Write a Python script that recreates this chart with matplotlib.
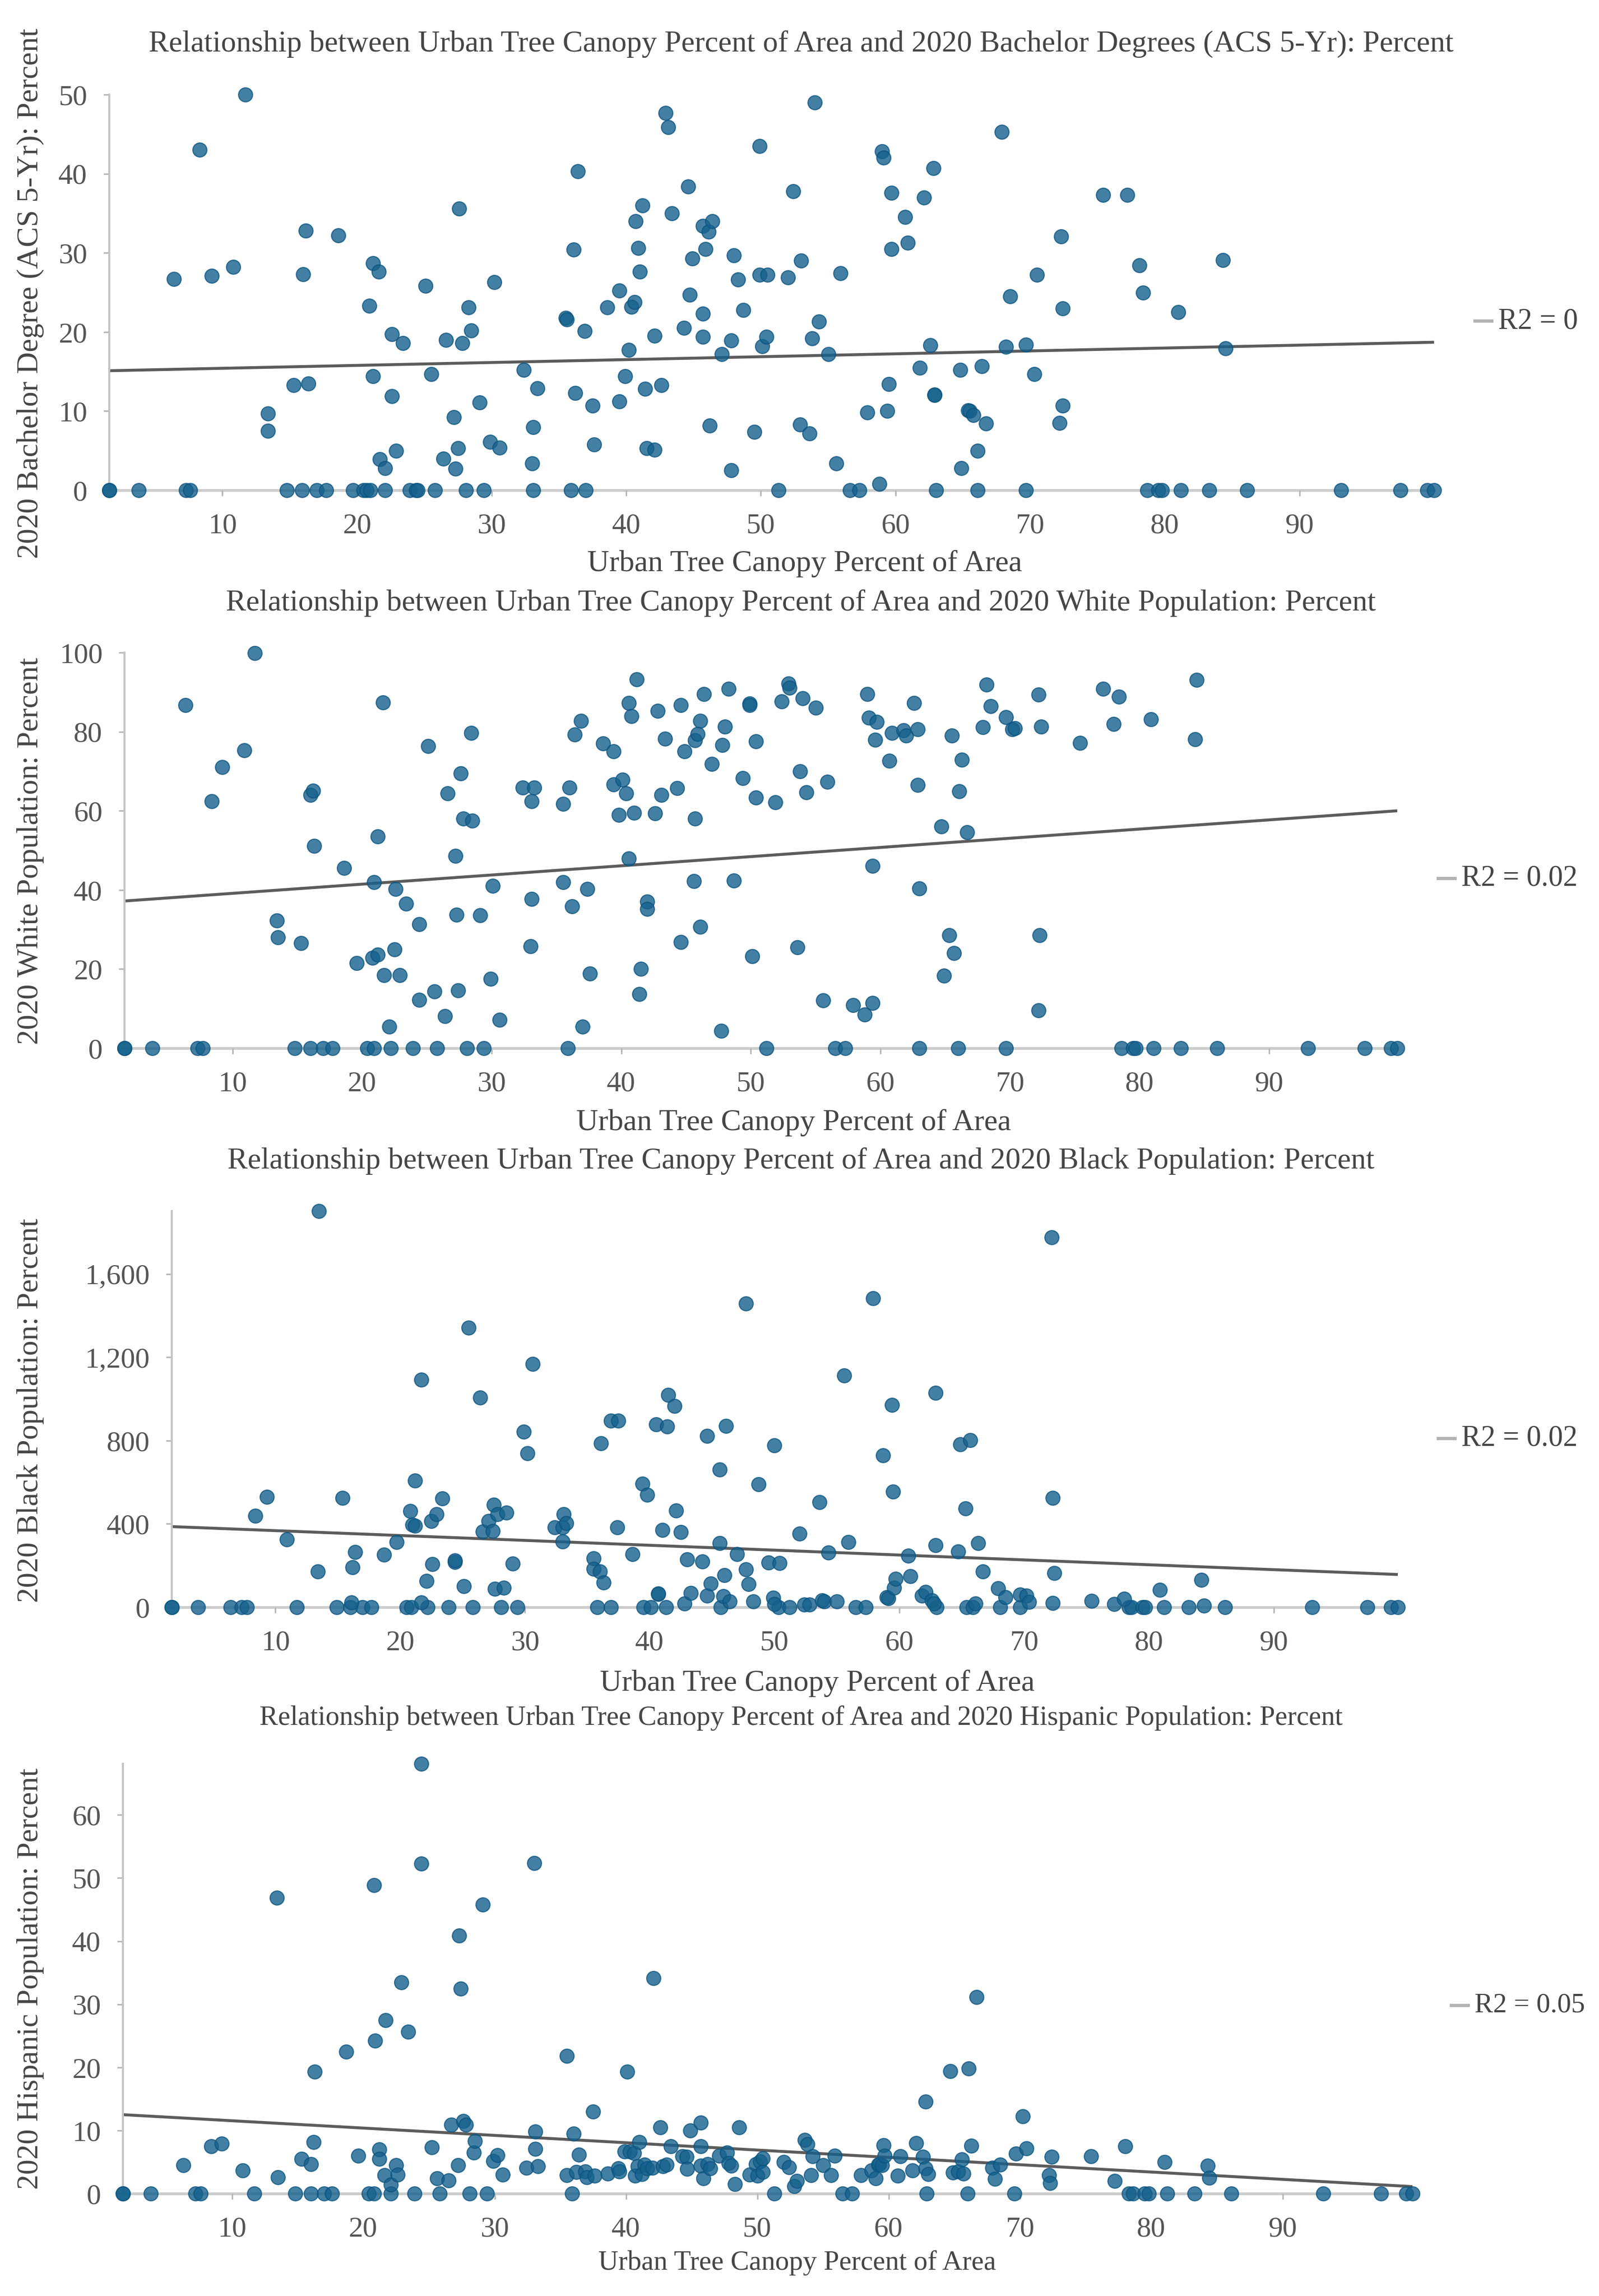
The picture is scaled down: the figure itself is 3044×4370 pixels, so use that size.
import numpy as np
import matplotlib
matplotlib.use("Agg")
import matplotlib.pyplot as plt
from matplotlib.lines import Line2D
from matplotlib.ticker import FuncFormatter

plt.rcParams['font.family'] = ['Liberation Serif', 'DejaVu Serif']

W, H = 3044, 4370

# ---- data (x = canopy %, y = variable) ----
bach_x = [1.6, 1.6, 3.8, 7.3, 7.6, 14.8, 15.9, 17.0, 17.7, 19.7, 20.5, 20.7, 21.0, 22.1, 23.9, 24.4, 24.5,
          25.8, 28.1, 29.4, 33.1, 35.9, 37.0, 51.3, 56.6, 57.3, 63.0, 66.1, 69.7, 78.7, 79.5, 79.8, 81.2,
          83.3, 86.1, 93.1, 97.5, 99.5, 100.0,
          6.4, 8.3, 9.2, 10.8, 11.7, 13.4, 13.4, 15.3, 16.0, 16.2, 16.4, 18.6, 20.9, 21.2, 21.2, 21.6, 21.7,
          22.1, 22.6, 22.6, 22.9, 23.4, 25.1, 25.5, 26.4, 26.6, 27.2, 27.3, 27.5, 27.6, 27.8, 28.3, 28.5,
          29.1, 29.9, 30.2, 30.6, 32.4, 33.0, 33.1, 33.4, 35.5, 35.6, 36.1, 36.2, 36.4, 36.9, 37.5, 37.6,
          38.6, 39.5, 39.5, 39.9, 40.2, 40.4, 40.6, 40.7, 40.9, 41.0, 41.2, 41.4, 41.5, 42.1, 42.1, 42.6,
          42.9, 43.1, 43.4, 44.3, 44.6, 44.7, 44.9, 45.7, 45.7, 45.7, 45.9, 46.1, 46.2, 46.4, 47.1, 47.8,
          47.8, 48.0, 48.3, 48.7, 49.5, 49.9, 49.9, 50.1, 50.5, 50.4, 52.0, 52.4, 52.9, 53.0, 53.6, 54.0,
          54.3, 53.8, 55.0, 55.9, 55.6, 57.9, 58.8, 59.0, 59.1, 59.4, 59.5, 59.7, 59.7, 60.7, 60.9, 61.8,
          62.1, 62.6, 62.8, 62.9, 62.9, 64.8, 64.9, 65.4, 65.5, 65.8, 66.1, 66.4, 66.7, 67.9, 68.2, 68.5,
          69.7, 70.3, 70.5, 72.2, 72.3, 72.4, 72.4, 75.4, 77.2, 78.1, 78.4, 81.0, 84.3, 84.5]
bach_y = [0, 0, 0, 0, 0, 0, 0, 0, 0, 0, 0, 0, 0, 0, 0, 0, 0,
          0, 0, 0, 0, 0, 0, 0, 0, 0, 0, 0, 0, 0, 0, 0, 0,
          0, 0, 0, 0, 0, 0,
          26.7, 43.0, 27.1, 28.2, 50.0, 7.5, 9.7, 13.3, 27.3, 32.8, 13.5, 32.2, 23.3, 28.7, 14.4, 27.6, 3.9,
          2.8, 19.7, 11.9, 5.0, 18.6, 25.8, 14.7, 4.0, 19.0, 9.2, 2.7, 5.3, 35.6, 18.6, 23.1, 20.2,
          11.1, 6.1, 26.3, 5.4, 15.2, 3.4, 8.0, 12.9, 21.8, 21.6, 30.4, 12.3, 40.3, 20.1, 10.7, 5.8,
          23.1, 25.2, 11.2, 14.4, 17.7, 23.2, 23.8, 34.0, 30.6, 27.6, 36.0, 12.8, 5.3, 19.5, 5.1, 13.3,
          47.7, 45.9, 35.0, 20.5, 38.4, 24.7, 29.3, 22.3, 19.4, 33.4, 30.5, 32.7, 8.2, 34.0, 17.2, 2.5,
          18.9, 29.7, 26.6, 22.8, 7.4, 43.5, 27.2, 18.2, 27.2, 19.4, 26.9, 37.8, 8.3, 29.0, 7.2, 49.0,
          21.3, 19.2, 17.2, 27.4, 3.4, 9.8, 0.8, 42.8, 42.0, 10.0, 13.4, 30.5, 37.6, 34.5, 31.3, 15.5,
          37.0, 18.3, 40.7, 12.1, 12.0, 15.2, 2.8, 10.1, 10.0, 9.5, 5.0, 15.7, 8.4, 45.3, 18.1, 24.5,
          18.4, 14.7, 27.2, 8.5, 32.1, 10.7, 23.0, 37.3, 37.3, 28.4, 25.0, 22.5, 29.1, 17.9]
bach_trend = [15.1, 18.7]
bach_r2 = "0"

white_x = [1.66, 1.66, 3.8, 7.3, 7.7, 14.8, 16.0, 17.0, 17.7, 20.4, 20.9, 22.2, 23.9, 25.8, 28.1, 29.4,
           35.9, 51.2, 56.5, 57.3, 63.0, 66.0, 69.7, 78.6, 79.5, 79.7, 81.1, 83.2, 86.0, 93.0, 97.4, 99.4, 99.9,
           6.35, 8.4, 9.2, 10.9, 11.7, 13.4, 13.5, 15.3, 16.0, 16.2, 16.3, 18.6, 19.6, 20.8, 20.9, 21.2,
           21.2, 21.6, 21.7, 22.1, 22.5, 22.6, 22.9, 23.4, 24.4, 24.4, 25.1, 25.6, 26.4, 26.6, 27.2, 27.3,
           27.4, 27.6, 27.8, 28.4, 28.5, 29.1, 29.9, 30.1, 30.6, 32.4, 33.0, 33.1, 33.1, 33.3, 35.5, 35.5,
           36.0, 36.2, 36.4, 36.9, 37.0, 37.4, 37.6, 38.6, 39.4, 39.4, 39.8, 40.1, 40.4, 40.6, 40.6, 40.8,
           41.0, 41.2, 41.4, 41.5, 42.0, 42.0, 42.6, 42.8, 43.1, 43.4, 44.3, 44.6, 44.6, 44.9, 45.6, 45.7,
           45.7, 45.9, 46.1, 46.1, 46.4, 47.0, 47.7, 47.8, 48.0, 48.3, 48.7, 49.4, 49.9, 49.9, 50.1, 50.4,
           50.4, 51.9, 52.4, 52.9, 53.0, 53.6, 53.8, 54.0, 54.3, 55.0, 55.9, 55.6, 57.9, 58.8, 59.0, 59.1,
           59.4, 59.4, 59.6, 59.7, 60.7, 60.9, 61.8, 62.0, 62.6, 62.9, 62.9, 63.0, 64.7, 64.9, 65.3, 65.5,
           65.7, 66.1, 66.3, 66.7, 67.9, 68.2, 68.5, 69.7, 70.2, 70.4, 72.2, 72.2, 72.3, 72.4, 75.4, 77.2,
           78.0, 78.4, 80.9, 84.3, 84.4]
white_y = [0, 0, 0, 0, 0, 0, 0, 0, 0, 0, 0, 0, 0, 0, 0, 0,
           0, 0, 0, 0, 0, 0, 0, 0, 0, 0, 0, 0, 0, 0, 0, 0, 0,
           86.7, 62.4, 71.0, 75.3, 99.9, 32.3, 28.0, 26.5, 64.0, 65.1, 51.1, 45.5, 21.5, 22.9, 42.0, 23.7,
           53.5, 87.4, 18.5, 5.5, 25.0, 40.3, 18.5, 36.5, 31.4, 12.2, 76.4, 14.4, 8.1, 64.4, 48.6, 33.7,
           14.6, 69.5, 58.0, 79.7, 57.5, 33.6, 17.5, 41.0, 7.2, 65.9, 25.8, 37.7, 62.4, 65.9, 42.0, 61.7,
           65.9, 35.8, 79.3, 82.7, 5.5, 40.3, 18.8, 77.0, 66.7, 75.0, 58.9, 67.8, 64.4, 48.0, 87.2, 83.9,
           59.5, 93.2, 13.7, 20.1, 37.1, 35.2, 59.4, 85.2, 64.0, 78.2, 65.8, 26.8, 86.7, 75.0, 42.2, 58.1,
           77.8, 79.4, 82.7, 30.7, 89.5, 71.8, 4.4, 76.6, 81.3, 90.9, 42.3, 68.3, 87.1, 86.7, 23.2, 63.3,
           77.5, 62.2, 87.6, 92.1, 91.1, 25.5, 70.0, 88.5, 64.7, 86.1, 67.3, 12.1, 10.9, 8.5, 89.5, 83.5,
           11.4, 46.1, 78.0, 82.5, 72.6, 79.7, 80.4, 79.0, 87.2, 80.6, 66.5, 40.4, 56.0, 18.3, 28.5, 79.0,
           24.0, 64.9, 72.9, 54.6, 81.1, 91.9, 86.5, 83.6, 80.6, 80.9, 9.5, 89.4, 28.6, 81.3, 77.2, 90.8,
           81.9, 88.8, 83.2, 78.1, 93.1]
white_trend = [37.2, 60.0]
white_r2 = "0.02"

black_x = [1.7, 1.7, 3.8, 6.4, 7.3, 7.7, 11.7, 14.9, 16.0, 17.0, 17.7, 20.5, 20.9, 22.2, 23.9, 25.8, 28.1,
           29.4, 35.8, 36.9, 39.5, 40.1, 41.3, 45.7, 50.3, 51.2, 56.5, 57.3, 63.0, 65.4, 65.9, 68.1, 69.7,
           78.4, 78.6, 79.5, 79.7, 81.2, 83.2, 86.1, 93.1, 97.5, 99.4, 99.95,
           8.4, 9.3, 10.9, 13.4, 13.5, 15.4, 16.1, 16.2, 16.4, 18.7, 19.7, 20.8, 21.0, 21.2, 21.2, 21.7,
           21.7, 22.1, 22.5, 22.6, 22.9, 23.4, 24.4, 24.4, 25.1, 25.5, 26.4, 26.6, 27.1, 27.4, 27.5, 27.6,
           27.8, 28.3, 28.5, 29.0, 29.9, 30.2, 30.6, 32.4, 33.0, 33.0, 33.1, 33.3, 35.5, 35.5, 36.0, 36.1,
           36.3, 36.9, 37.5, 37.4, 38.6, 39.4, 39.8, 40.5, 40.7, 40.7, 41.0, 41.4, 41.5, 42.0, 42.1, 42.5,
           42.8, 43.0, 43.3, 44.2, 44.6, 44.6, 44.9, 45.6, 45.6, 45.9, 46.0, 46.1, 46.4, 47.0, 47.7, 47.7,
           47.9, 48.3, 48.7, 49.5, 49.9, 50.0, 50.0, 50.4, 52.0, 52.4, 52.8, 53.6, 53.8, 54.0, 54.3, 55.0,
           55.6, 55.9, 57.9, 58.7, 59.0, 59.1, 59.4, 59.5, 59.6, 59.7, 60.7, 60.9, 61.8, 62.1, 62.6, 62.8,
           62.9, 62.9, 64.7, 64.9, 65.3, 65.7, 66.1, 66.3, 66.7, 67.9, 68.5, 69.7, 70.2, 70.4, 72.2, 72.3,
           72.3, 72.4, 75.4, 77.2, 78.0, 80.9, 84.2, 84.4]
black_y = [0, 0, 0, 0, 0, 0, 0, 0, 0, 0, 0, 0, 0, 0, 0, 0, 0,
           0, 0, 0, 0, 0, 0, 0, 0, 0, 0, 0, 0, 0, 0, 0, 0,
           0, 0, 0, 0, 0, 0, 0, 0, 0, 0, 0,
           438, 529, 326, 172, 1902, 525, 22, 191, 266, 252, 312, 462, 396, 391, 607, 1092,
           22, 125, 414, 208, 447, 522, 218, 225, 102, 1342, 1006, 362, 413, 367, 491, 89,
           447, 94, 455, 210, 843, 739, 1167, 384, 384, 316, 447, 403, 234, 183, 171, 788,
           119, 895, 895, 384, 254, 592, 541, 877, 63, 65, 372, 868, 1018, 965, 464, 360,
           17, 229, 68, 220, 822, 55, 114, 660, 307, 53, 155, 870, 27, 254, 1457, 181,
           111, 27, 590, 215, 46, 14, 778, 213, 353, 12, 12, 505, 34, 29, 263, 27,
           1112, 314, 1484, 730, 49, 43, 970, 554, 94, 136, 247, 148, 55, 73, 34, 17,
           298, 1028, 268, 783, 474, 803, 17, 309, 172, 90, 48, 60, 55, 24, 1776, 19,
           525, 164, 31, 14, 41, 82, 131, 7]
black_trend = [387, 157]
black_r2 = "0.02"

hisp_x = [1.7, 1.7, 3.8, 7.2, 7.6, 11.7, 14.8, 16.0, 17.0, 17.6, 20.4, 20.8, 22.1, 23.9, 25.8, 28.1, 29.4,
          35.9, 51.3, 56.5, 57.2, 62.9, 66.0, 69.6, 78.3, 78.6, 79.5, 79.8, 81.2, 83.3, 86.1, 93.1, 97.5,
          99.4, 99.9,
          6.3, 8.4, 9.2, 10.8, 13.4, 13.5, 15.3, 16.0, 16.2, 16.3, 18.7, 19.6, 20.8, 20.9, 21.2, 21.2,
          21.6, 21.7, 22.1, 22.5, 22.6, 22.9, 23.4, 24.4, 24.4, 25.2, 25.6, 26.5, 26.7, 27.2, 27.3, 27.4,
          27.6, 27.8, 28.4, 28.5, 29.1, 29.9, 30.2, 30.6, 32.4, 33.0, 33.1, 33.1, 33.3, 35.5, 35.5, 36.0,
          36.2, 36.4, 36.9, 37.0, 37.5, 37.6, 38.6, 39.4, 39.5, 39.9, 40.1, 40.3, 40.6, 40.7, 40.9, 41.0,
          41.2, 41.4, 41.6, 42.0, 42.1, 42.6, 42.8, 43.1, 43.4, 44.3, 44.6, 44.65, 44.9, 45.7, 45.7, 45.7,
          45.9, 46.2, 46.4, 47.1, 47.7, 47.8, 48.0, 48.3, 48.6, 49.4, 49.9, 50.0, 50.2, 50.4, 50.4, 52.0,
          52.4, 52.8, 53.0, 53.6, 53.8, 54.1, 54.2, 55.0, 55.6, 55.9, 57.9, 58.7, 59.0, 59.2, 59.3, 59.5,
          59.6, 59.7, 60.7, 60.9, 61.8, 62.1, 62.6, 62.8, 63.0, 62.8, 64.7, 64.9, 65.3, 65.6, 65.7, 66.1,
          66.3, 66.7, 67.9, 68.1, 68.5, 69.7, 70.2, 70.5, 72.2, 72.3, 72.4, 75.4, 77.2, 78.0, 81.0, 84.3,
          84.4]
hisp_y = [0, 0, 0, 0, 0, 0, 0, 0, 0, 0, 0, 0, 0, 0, 0, 0, 0,
          0, 0, 0, 0, 0, 0, 0, 0, 0, 0, 0, 0, 0, 0, 0, 0,
          0, 0,
          4.5, 7.5, 7.9, 3.7, 46.9, 2.6, 5.5, 4.7, 8.2, 19.3, 22.5, 6.0, 48.9, 24.2, 7.0, 5.5,
          2.9, 27.5, 1.4, 4.5, 3.0, 33.5, 25.6, 68.1, 52.3, 7.3, 2.4, 2.1, 10.9, 4.5, 40.9, 32.5,
          11.5, 10.9, 6.5, 8.3, 45.8, 5.2, 6.1, 3.0, 4.1, 52.4, 9.8, 7.1, 4.3, 21.8, 2.9, 9.5,
          3.4, 6.2, 3.5, 2.6, 13.0, 2.8, 3.2, 4.0, 3.5, 6.7, 19.3, 6.7, 6.4, 2.8, 4.3, 8.2,
          3.1, 4.6, 4.0, 4.1, 34.1, 10.5, 4.3, 4.6, 7.5, 5.9, 5.8, 3.9, 10.0, 11.2, 7.5, 4.4,
          2.4, 4.7, 4.0, 6.0, 6.5, 4.8, 4.4, 1.5, 10.5, 3.0, 4.7, 2.8, 5.1, 3.4, 5.6, 5.0,
          4.2, 1.2, 2.0, 8.5, 7.8, 2.9, 5.9, 4.5, 2.9, 6.0, 2.9, 3.7, 2.4, 4.6, 4.7, 4.5,
          7.7, 6.0, 2.8, 5.9, 3.7, 8.0, 5.8, 4.0, 3.1, 14.6, 19.4, 3.3, 3.5, 5.4, 3.2, 19.8,
          7.6, 31.1, 4.1, 2.3, 4.6, 6.3, 12.2, 7.2, 2.9, 1.7, 5.8, 5.9, 2.0, 7.5, 5.0, 4.4,
          2.5]
hisp_trend = [12.5, 1.1]
hisp_r2 = "0.05"

titles = [
    "Relationship between Urban Tree Canopy Percent of Area and 2020 Bachelor Degrees (ACS 5-Yr): Percent",
    "Relationship between Urban Tree Canopy Percent of Area and 2020 White Population: Percent",
    "Relationship between Urban Tree Canopy Percent of Area and 2020 Black Population: Percent",
    "Relationship between Urban Tree Canopy Percent of Area and 2020 Hispanic Population: Percent",
]
ylabels = [
    "2020 Bachelor Degree (ACS 5-Yr): Percent",
    "2020 White Population: Percent",
    "2020 Black Population: Percent",
    "2020 Hispanic Population: Percent",
]
xlabel = "Urban Tree Canopy Percent of Area"
x_ticks = [10, 20, 30, 40, 50, 60, 70, 80, 90]
y_ticks = [
    [0, 10, 20, 30, 40, 50],
    [0, 20, 40, 60, 80, 100],
    [0, 400, 800, 1200, 1600],
    [0, 10, 20, 30, 40, 50, 60],
]

panels = [
    (bach_x, bach_y, bach_trend, bach_r2),
    (white_x, white_y, white_trend, white_r2),
    (black_x, black_y, black_trend, black_r2),
    (hisp_x, hisp_y, hisp_trend, hisp_r2),
]

# layout, in pixels of the 3044 x 4370 canvas
# (axes left, axes right, y of zero line, y of top, title y, xlabel x/y, ylabel y, r2 dash x, r2 y)
layout = [
    (208, 2730, 933, 180, 84, 1532, 1073, 558, 2808, 611),
    (237, 2660, 1995, 1242, 1148, 1511, 2137, 1620, 2738, 1672),
    (327, 2661, 3059, 2305, 2210, 1556, 3204, 2684, 2738, 2738),
    (234, 2689, 4175, 3357, 3270, 1518, 4307, 3766, 2763, 3817),
]
# the last panel's title / labels are drawn a bit smaller in the source
text_scale = [1.0, 1.0, 1.0, 0.915]

dot_color = "#15618c"
text_color = "#454545"
tick_color = "#555555"
fs_text = 41.5
fs_tick = 39.5

fig = plt.figure(figsize=(W / 100, H / 100), dpi=100)
fig.patch.set_facecolor("white")

for i, (xs, ys, trend, r2) in enumerate(panels):
    left, right, y0, ytop, ty, xlx, xly, yly, dash_x, r2y = layout[i]
    k = text_scale[i]
    ax = fig.add_axes([left / W, 1 - y0 / H, (right - left) / W, (y0 - ytop) / H])
    xs = np.array(xs)
    ys = np.array(ys)
    ax.set_xlim(xs.min(), xs.max())
    ax.set_ylim(0, ys.max())

    ax.axhline(0, color="#cccccc", lw=3.8, zorder=1, clip_on=False)
    ax.plot([xs.min(), xs.max()], trend, color="#5c5c5c", lw=4.0, zorder=2,
            solid_capstyle="butt")
    ax.scatter(xs, ys, s=370, color=dot_color, alpha=0.8, edgecolors="#0c5480",
               linewidths=1.5, zorder=3, clip_on=False)

    for side in ["top", "right", "bottom"]:
        ax.spines[side].set_visible(False)
    ax.spines["left"].set_color("#c4c4c4")
    ax.spines["left"].set_linewidth(2.8)

    ax.set_xticks(x_ticks)
    ax.set_yticks(y_ticks[i])
    if i == 2:
        ax.yaxis.set_major_formatter(FuncFormatter(lambda v, p: f"{v:,.0f}"))
    ax.tick_params(axis="both", colors="#b5b5b5", labelcolor=tick_color, labelsize=fs_tick,
                   length=8, width=2)
    ax.tick_params(axis="x", pad=23)
    ax.tick_params(axis="y", pad=22)
    ax.set_facecolor("none")

    fig.text(1525 / W, 1 - ty / H, titles[i], ha="center", va="center",
             fontsize=fs_text * k, color=text_color)
    fig.text(xlx / W, 1 - xly / H, xlabel, ha="center", va="center",
             fontsize=fs_text * k, color=text_color)
    fig.text(58 / W, 1 - yly / H, ylabels[i], ha="center", va="center", rotation=90,
             fontsize=fs_text, color=text_color)

    fig.add_artist(Line2D([dash_x / W, (dash_x + 32) / W], [1 - r2y / H, 1 - r2y / H],
                          color="#b3b3b3", lw=4.5))
    fig.text((dash_x + 44) / W, 1 - r2y / H, "R2 = " + r2, ha="left", va="center",
             fontsize=(fs_tick + 0.5) * (0.95 if i == 3 else 1.0), color=text_color)

fig.savefig("out.png", dpi=100, facecolor="white")
